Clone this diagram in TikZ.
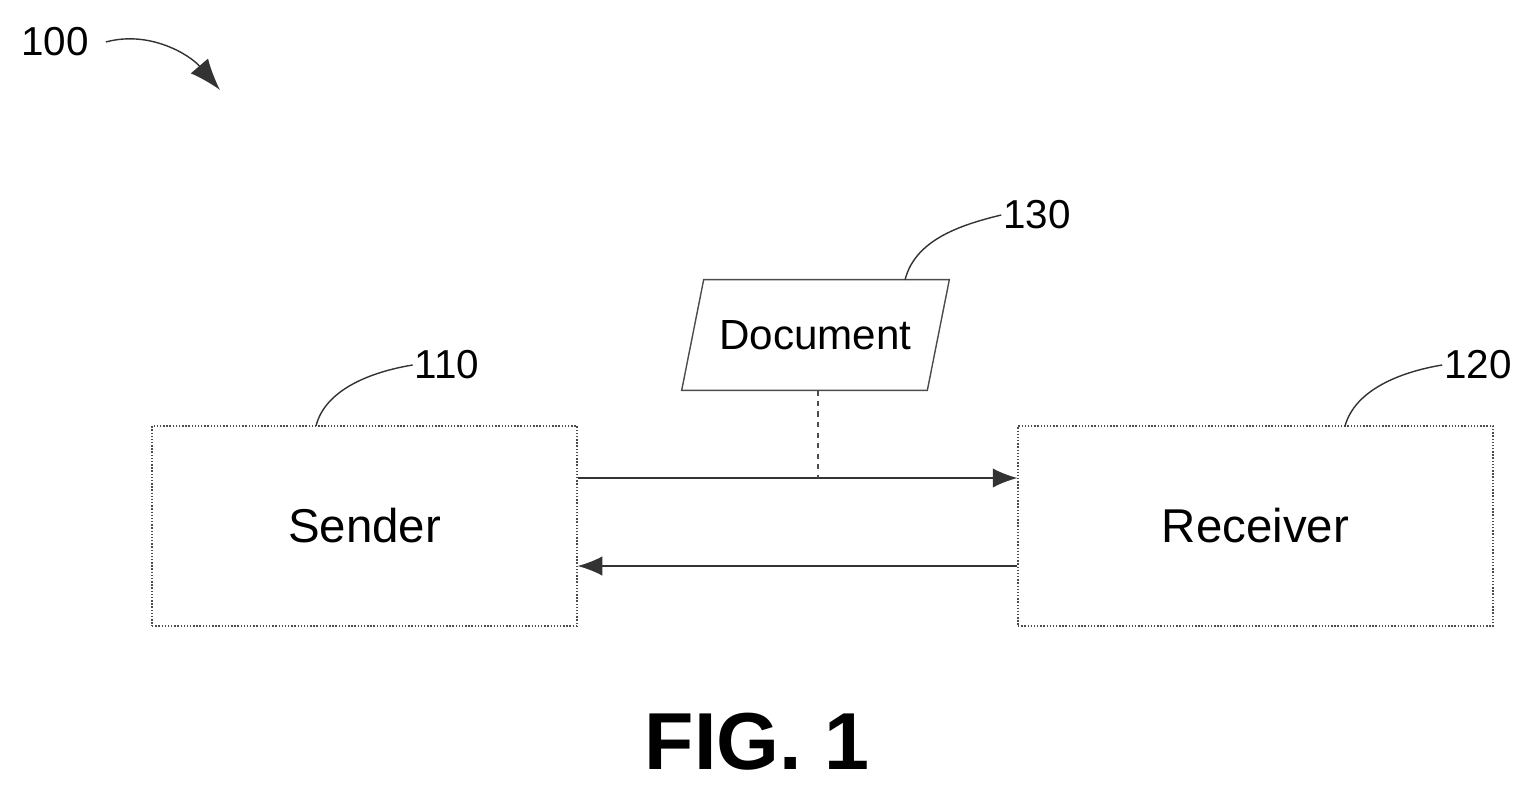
\documentclass[tikz,border=0pt]{standalone}
\usepackage{fontspec}
\setmainfont{Liberation Sans}
\usetikzlibrary{arrows.meta}

\begin{document}
\begin{tikzpicture}[x=0.02cm, y=-0.02cm]

% Styles for blocks, labels and connectors
\tikzset{block/.style={draw=black!70, densely dotted, thick, minimum height=4cm, inner sep=0pt, font=\fontsize{27}{30}\selectfont}}
\tikzset{refnum/.style={font=\fontsize{23}{26}\selectfont, inner sep=1pt}}
\tikzset{lead/.style={thick, black!80}}
\tikzset{flow/.style={thick, black!80, -{Latex[length=14pt,width=11pt]}}}

\useasboundingbox (0,0) rectangle (1531,794);

\node[block, minimum width=8.5cm] (sender) at (364.5,526) {Sender};
\node[block, minimum width=9.5cm] (receiver) at (1255.5,526) {Receiver};
\node[minimum width=4.9cm, minimum height=2.2cm, inner sep=0pt,
      font=\fontsize{24}{27}\selectfont] (doc) at (815.5,335) {Document};
\draw[thick, black!70] ([xshift=11*0.02cm]doc.north west) -- ([xshift=11*0.02cm]doc.north east)
  -- ([xshift=-11*0.02cm]doc.south east) -- ([xshift=-11*0.02cm]doc.south west) -- cycle;

% Reference numerals
\node[refnum] (n100) at (55,42) {100};
\node[refnum] (n110) at (447,365) {110};
\node[refnum] (n120) at (1478,365) {120};
\node[refnum] (n130) at (1037,215) {130};

% Leaders
\coordinate (l110) at (316,426);
\coordinate (l120) at (1345,426);
\coordinate (l130) at (905,280);
\draw[lead] (l110) .. controls (325,390) and (370,372) .. (n110.west);
\draw[lead] (l120) .. controls (1355,390) and (1400,372) .. (n120.west);
\draw[lead] (l130) .. controls (915,240) and (960,225) .. (n130.west);
\draw[lead, -{Latex[length=18pt,width=13pt]}] (n100.east) ++(15,0) .. controls (150,30) and (190,55) .. (220,90);

% Connectors
\coordinate (s1) at (sender.east |- 0,478);
\coordinate (r1) at (receiver.west |- 0,478);
\coordinate (s2) at (sender.east |- 0,566);
\coordinate (r2) at (receiver.west |- 0,566);
\coordinate (d1) at (818,478);
\draw[flow] (s1) -- (r1);
\draw[flow] (r2) -- (s2);
\draw[thick, black!70, dashed] (doc.south -| d1) -- (d1);

\node[font=\bfseries\fontsize{46}{50}\selectfont] (fig) at (757,742) {FIG. 1};
\end{tikzpicture}
\end{document}
